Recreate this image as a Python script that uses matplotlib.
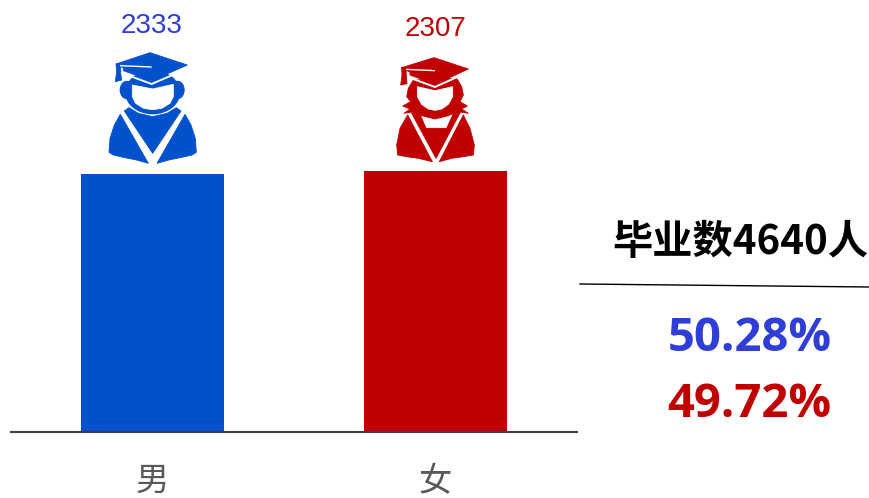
import matplotlib
matplotlib.use('Agg')
import matplotlib.pyplot as plt
from matplotlib.patches import Polygon, Ellipse

plt.rcParams['font.family'] = ['Noto Sans CJK SC', 'DejaVu Sans']

# data
categories = ['男', '女']
bar_values = [2307, 2333]
bar_labels = ['2333', '2307']
total_text = '毕业数4640人'
share_text = ['50.28%', '49.72%']

blue = '#0052cc'
red = '#c00000'
text_blue = '#2f3ed6'
W, H = 869, 498

fig = plt.figure(figsize=(W / 100, H / 100), dpi=100)

# bars
ax = fig.add_axes([11 / W, (H - 432) / H, 566 / W, 432 / H])
ax.bar(range(2), bar_values, width=0.503, color=[blue, red])
ax.set_xlim(-0.5, 1.5)
ax.set_ylim(0, 3863)
ax.set_yticks([])
ax.set_xticks(range(2))
ax.set_xticklabels(categories, fontsize=24, fontweight='medium', color='#595959')
ax.tick_params(axis='x', length=0, pad=23)
for s in ['top', 'left', 'right']:
    ax.spines[s].set_visible(False)
ax.spines['bottom'].set_color('#404040')
ax.spines['bottom'].set_linewidth(1.5)
ax.patch.set_alpha(0)

# overlay in pixels for icons and the right side text
ov = fig.add_axes([0, 0, 1, 1])
ov.set_xlim(0, W)
ov.set_ylim(H, 0)
ov.axis('off')


def px(pts, x0, y0):
    return [(x0 + p[0] / 3, y0 + p[1] / 3) for p in pts]


def poly(pts, x0, y0, c, z):
    ov.add_patch(Polygon(px(pts, x0, y0), facecolor=c, edgecolor=c, lw=0.6, joinstyle='round', zorder=z))


def ell(cx, cy, w, h, x0, y0, c, z):
    ov.add_patch(Ellipse((x0 + cx / 3, y0 + cy / 3), w / 3, h / 3, color=c, lw=0, zorder=z))


def line(pts, x0, y0, lw, z):
    xy = px(pts, x0, y0)
    ov.plot([p[0] for p in xy], [p[1] for p in xy], color='white', lw=lw, zorder=z, solid_capstyle='butt')


def male_icon(c):
    # lower part, crop origin 105,75
    x0, y0 = 105, 75
    poly([(46, 118), (28, 150), (15, 190), (12, 232), (25, 240), (60, 248), (95, 255), (130, 265)], x0, y0, c, 2)
    poly([(240, 118), (258, 150), (271, 190), (274, 232), (261, 240), (226, 248), (191, 255), (156, 265)], x0, y0, c, 2)
    poly([(58, 108), (72, 98), (100, 115), (143, 125), (186, 115), (214, 98), (228, 108), (143, 235)], x0, y0, c, 2)
    ell(65, 45, 42, 55, x0, y0, c, 3)
    ell(218, 45, 42, 55, x0, y0, c, 3)
    ell(143, 52, 166, 132, x0, y0, c, 3)
    poly([(82, 30), (143, 42), (205, 28), (205, 65), (195, 85), (170, 100), (143, 104), (116, 100), (92, 85), (82, 65)],
         x0, y0, 'white', 3.5)
    # cap, crop origin 90,40
    x0, y0 = 90, 40
    line([(98, 100), (185, 132), (278, 92)], x0, y0, 1.4, 4)
    poly([(180, 38), (292, 75), (185, 122), (100, 92), (100, 84), (78, 72)], x0, y0, c, 5)
    poly([(78, 72), (92, 72), (92, 100), (95, 120), (76, 125), (80, 95)], x0, y0, c, 5)
    line([(90, 77), (185, 81)], x0, y0, 1.0, 6)


def female_icon(c):
    # lower part, crop origin 395,95
    x0, y0 = 395, 95
    poly([(38, 60), (15, 100), (5, 150), (8, 180), (35, 185), (70, 190), (112, 200)], x0, y0, c, 2)
    poly([(205, 60), (225, 100), (238, 150), (235, 180), (205, 185), (170, 190), (133, 200)], x0, y0, c, 2)
    poly([(50, 55), (70, 45), (93, 100), (155, 100), (180, 45), (196, 52), (123, 190)], x0, y0, c, 2)
    # hair and face, crop origin 380,45
    x0, y0 = 380, 45
    poly([(100, 105), (85, 130), (80, 155), (92, 170), (68, 183), (90, 192), (72, 205), (105, 200), (125, 212),
          (165, 222), (205, 212), (235, 200), (265, 205), (245, 192), (262, 183), (240, 170), (250, 150), (245, 125), (230, 100)],
         x0, y0, c, 3)
    poly([(112, 125), (165, 137), (218, 125), (218, 155), (205, 178), (185, 192), (165, 196), (145, 192), (125, 178), (112, 155)],
         x0, y0, 'white', 3.5)
    line([(88, 98), (165, 126), (258, 84)], x0, y0, 1.4, 4)
    poly([(162, 38), (265, 72), (165, 118), (90, 90), (90, 82), (65, 68)], x0, y0, c, 5)
    poly([(65, 68), (78, 68), (79, 95), (81, 116), (62, 120), (66, 92)], x0, y0, c, 5)
    line([(78, 73), (165, 77)], x0, y0, 1.0, 6)


male_icon(blue)
female_icon(red)

# value labels above the icons
ov.text(152, 26, bar_labels[0], color=text_blue, fontsize=20, family=['Liberation Sans'], ha='center', va='center')
ov.text(435, 29, bar_labels[1], color=red, fontsize=20, family=['Liberation Sans'], ha='center', va='center')

# right side summary
ov.text(740, 242, total_text, color='black', fontsize=29, fontweight='bold', ha='center', va='center')
ov.plot([580, 869], [284, 287], color='black', lw=1)
ov.text(750, 338, share_text[0], color=text_blue, fontsize=34, fontweight='bold', family=['Open Sans'], ha='center', va='center')
ov.text(749, 404, share_text[1], color=red, fontsize=34, fontweight='bold', family=['Open Sans'], ha='center', va='center')

fig.savefig('out.png', dpi=100)
